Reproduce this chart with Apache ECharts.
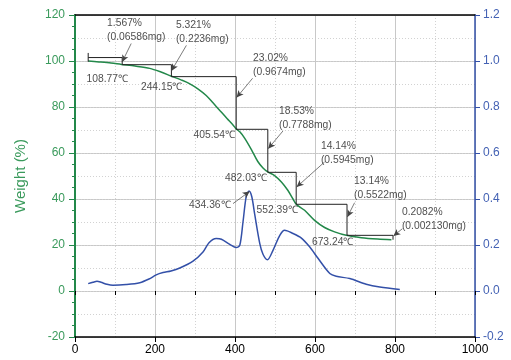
<!DOCTYPE html>
<html>
<head>
<meta charset="utf-8">
<script src="https://cdn.jsdelivr.net/npm/echarts@6/dist/echarts.min.js"></script>
<style>html,body{margin:0;padding:0;background:#fff}#c{width:511px;height:360px}</style>
</head>
<body>
<div id="c"></div>
<script>
// TG curve (Weight %)
const tgTemp   = [33, 60, 90, 116, 150, 187, 215, 241, 265, 286, 308, 328, 345, 362, 380, 395, 403, 412, 424, 441, 457, 470, 482, 499, 516, 532, 545, 553, 574, 599, 624, 649, 678, 716, 757, 791];
const tgWeight = [100, 99.6, 99.1, 98.5, 97.8, 96.8, 95.2, 93.4, 91.8, 90.2, 87.8, 85.0, 81.8, 78.5, 75.0, 72.2, 70.5, 69.2, 66.5, 61.5, 56.3, 53.5, 51.8, 50.2, 47.4, 43.8, 40.0, 37.7, 35.1, 30.7, 27.6, 25.7, 24.2, 23.2, 22.6, 22.3];
// DTG curve (right axis)
const dtgTemp = [33, 45, 55, 65, 80, 95, 128, 162, 185, 203, 220, 240, 262, 295, 320, 335, 353, 366, 387, 403, 412, 420, 428, 435, 442, 449, 462, 470, 481, 495, 512, 524, 545, 566, 587, 608, 637, 653, 687, 728, 762, 812];
const dtgRate = [0.032, 0.038, 0.042, 0.038, 0.029, 0.025, 0.028, 0.036, 0.052, 0.070, 0.080, 0.087, 0.100, 0.130, 0.170, 0.210, 0.228, 0.225, 0.203, 0.189, 0.199, 0.300, 0.410, 0.435, 0.410, 0.336, 0.206, 0.160, 0.136, 0.177, 0.242, 0.264, 0.250, 0.230, 0.191, 0.141, 0.076, 0.064, 0.054, 0.029, 0.017, 0.007];
// step construction lines
const stepTemps  = [33, 118, 241, 403, 482, 553, 680, 795];
const stepLevels = [101.5, 98.4, 93.2, 70.3, 51.6, 37.7, 24.2, 22.3];
const bracketTemp = 33, bracketTop = 103.5, bracketBottom = 99.7;
// loss annotations
const lossTexts  = ['1.567%\n(0.06586mg)', '5.321%\n(0.2236mg)', '23.02%\n(0.9674mg)', '18.53%\n(0.7788mg)', '14.14%\n(0.5945mg)', '13.14%\n(0.5522mg)', '0.2082%\n(0.002130mg)'];
const lossLabelX = [81.5, 253.5, 446.5, 511.5, 616, 699, 818.5];
const lossLabelY = [119.3, 118.6, 104.1, 80.9, 65.6, 50.4, 37.1];
// temperature annotations
const tempTexts  = ['108.77℃', '244.15℃', '405.54℃', '482.03℃', '552.39℃', '673.24℃', '434.36℃'];
const tempLabelX = [30, 166, 297.5, 376.5, 455, 593.5, 286.5];
const tempLabelY = [91.9, 88.4, 67.4, 48.9, 35.1, 20.9, 37.3];
// arrows
const arrowFromX = [140.5, 278.5, 444, 520, 624, 699, 818.5, 395];
const arrowFromY = [107.6, 106.8, 92.5, 69.6, 56.1, 38.4, 27.1, 38.0];
const arrowToX   = [118, 241, 404, 483, 554, 681, 796, 436.5];
const arrowToY   = [99.6, 95.7, 84.1, 61.9, 45.2, 32.2, 23.9, 43.3];

const GREEN = '#23884a', GREEN_TXT = '#3a9a5c', BLUE = '#3350a8', BLUE_TXT = '#4462b4';
const FONT = 'Liberation Sans, Arial, sans-serif';
const DOT = {color: '#d2d2d2', type: [1, 2], width: 1};

const stepData = [];
for (let i = 0; i < stepTemps.length - 1; i++) {
  stepData.push([stepTemps[i], stepLevels[i]]);
  stepData.push([stepTemps[i + 1], stepLevels[i]]);
}
stepData.push([stepTemps[stepTemps.length - 1], stepLevels[stepLevels.length - 1]]);

const arrows = arrowFromX.map((x, i) => [{coord: [x, arrowFromY[i]]}, {coord: [arrowToX[i], arrowToY[i]]}]);

const chart = echarts.init(document.getElementById('c'));
chart.setOption({
  animation: false,
  grid: {left: 75, right: 36, top: 15, bottom: 23},
  xAxis: [{
    // minor grid / ticks every 100
    type: 'value', min: 0, max: 1000, interval: 100, position: 'bottom',
    axisLine: {show: false},
    axisTick: {show: true, length: 4, lineStyle: {color: '#000'}},
    axisLabel: {show: false},
    splitLine: {show: true, lineStyle: DOT}
  }, {
    type: 'value', min: 0, max: 1000, interval: 200, position: 'bottom',
    axisLine: {show: true, onZero: false, lineStyle: {color: '#000', width: 1.5}},
    axisTick: {length: 5, lineStyle: {color: '#000'}},
    axisLabel: {color: '#000', fontSize: 12, fontFamily: FONT, margin: 7, formatter: v => String(v)},
    splitLine: {show: true, lineStyle: {color: '#c8c8c8', width: 1}}
  }, {
    type: 'value', min: 0, max: 1000, position: 'top',
    axisLine: {show: true, onZero: false, lineStyle: {color: '#000', width: 1.5}},
    axisTick: {show: false}, axisLabel: {show: false}, splitLine: {show: false}
  }],
  yAxis: [{
    type: 'value', min: -20, max: 120, interval: 20,
    name: 'Weight (%)', nameLocation: 'middle', nameGap: 47,
    nameTextStyle: {color: GREEN_TXT, fontSize: 15, fontFamily: FONT},
    axisLine: {show: true, onZero: false, lineStyle: {color: GREEN, width: 2}},
    axisTick: {show: true, length: 6, lineStyle: {color: GREEN}},
    axisLabel: {color: GREEN_TXT, fontSize: 12, fontFamily: FONT, margin: 10},
    splitLine: {show: true, lineStyle: {color: '#c8c8c8', width: 1}}
  }, {
    type: 'value', min: -0.2, max: 1.2, interval: 0.2, position: 'right',
    axisLine: {show: true, onZero: false, lineStyle: {color: BLUE, width: 1.5}},
    axisTick: {show: true, length: 5, lineStyle: {color: BLUE}},
    axisLabel: {color: BLUE_TXT, fontSize: 12, fontFamily: FONT, margin: 8, formatter: v => v.toFixed(1)},
    splitLine: {show: false}
  }, {
    // minor ticks every 5 on the left
    type: 'value', min: -20, max: 120, interval: 5, position: 'left',
    axisLine: {show: false},
    axisTick: {show: true, length: 3, lineStyle: {color: GREEN}},
    axisLabel: {show: false}, splitLine: {show: false}
  }, {
    // dotted grid every 10
    type: 'value', min: -20, max: 120, interval: 10, position: 'left',
    axisLine: {show: false}, axisTick: {show: false}, axisLabel: {show: false},
    splitLine: {show: true, lineStyle: DOT}
  }],
  series: [{
    type: 'line', name: 'DTG', xAxisIndex: 1, yAxisIndex: 1, smooth: 0.3, symbol: 'none',
    lineStyle: {color: BLUE, width: 1.5},
    data: dtgTemp.map((t, i) => [t, dtgRate[i]])
  }, {
    type: 'line', name: 'TG', xAxisIndex: 1, smooth: 0.3, symbol: 'none',
    lineStyle: {color: GREEN, width: 1.5},
    data: tgTemp.map((t, i) => [t, tgWeight[i]])
  }, {
    type: 'line', name: 'steps', xAxisIndex: 1, symbol: 'none', z: 3,
    lineStyle: {color: '#222', width: 1},
    data: stepData,
    markLine: {
      silent: true, symbol: ['none', 'arrow'], symbolSize: [5, 7],
      label: {show: false},
      lineStyle: {color: '#444', width: 0.7, type: 'solid'},
      emphasis: {disabled: true},
      data: arrows
    }
  }, {
    type: 'line', name: 'bracket', xAxisIndex: 1, symbol: 'none', z: 3,
    lineStyle: {color: '#222', width: 1},
    data: [[bracketTemp, bracketTop], [bracketTemp, bracketBottom]]
  }, {
    type: 'scatter', name: 'lossLabels', xAxisIndex: 1, symbolSize: 1, z: 5,
    itemStyle: {color: 'rgba(0,0,0,0)'},
    data: lossLabelX.map((x, i) => [x, lossLabelY[i]]),
    label: {
      show: true, position: [0, 0], align: 'left', verticalAlign: 'top',
      formatter: p => lossTexts[p.dataIndex],
      color: '#222', fontSize: 10.3, lineHeight: 14, fontFamily: FONT
    }
  }, {
    type: 'scatter', name: 'tempLabels', xAxisIndex: 1, symbolSize: 1, z: 5,
    itemStyle: {color: 'rgba(0,0,0,0)'},
    data: tempLabelX.map((x, i) => [x, tempLabelY[i]]),
    label: {
      show: true, position: [0, 0], align: 'left', verticalAlign: 'middle',
      formatter: p => tempTexts[p.dataIndex],
      color: '#222', fontSize: 10.3, fontFamily: FONT
    }
  }]
});
</script>
</body>
</html>
